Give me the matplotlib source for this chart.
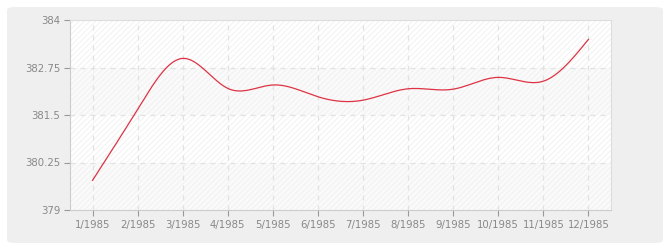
import numpy as np
import matplotlib
matplotlib.use("Agg")
import matplotlib.pyplot as plt
from matplotlib.patches import FancyBboxPatch

months = ["1/1985", "2/1985", "3/1985", "4/1985", "5/1985", "6/1985",
          "7/1985", "8/1985", "9/1985", "10/1985", "11/1985", "12/1985"]
values = [379.78, 381.65, 382.99, 382.20, 382.29, 381.98,
          381.89, 382.19, 382.18, 382.49, 382.39, 383.49]
yticks = [379, 380.25, 381.5, 382.75, 384]
ytick_labels = ["379", "380.25", "381.5", "382.75", "384"]


def natural_spline(x, y, n=400):
    x = np.asarray(x, float); y = np.asarray(y, float)
    k = len(x)
    h = np.diff(x)
    A = np.zeros((k, k)); b = np.zeros(k)
    A[0, 0] = 1; A[-1, -1] = 1
    for i in range(1, k - 1):
        A[i, i - 1] = h[i - 1]
        A[i, i] = 2 * (h[i - 1] + h[i])
        A[i, i + 1] = h[i]
        b[i] = 3 * ((y[i + 1] - y[i]) / h[i] - (y[i] - y[i - 1]) / h[i - 1])
    c = np.linalg.solve(A, b)
    xs = np.linspace(x[0], x[-1], n)
    ys = np.empty_like(xs)
    for j, xv in enumerate(xs):
        i = min(np.searchsorted(x, xv, side="right") - 1, k - 2)
        dx = xv - x[i]
        bi = (y[i + 1] - y[i]) / h[i] - h[i] * (2 * c[i] + c[i + 1]) / 3
        di = (c[i + 1] - c[i]) / (3 * h[i])
        ys[j] = y[i] + bi * dx + c[i] * dx ** 2 + di * dx ** 3
    return xs, ys


plt.rcParams['hatch.color'] = '#eeeeee'
plt.rcParams['hatch.linewidth'] = 0.6

fig = plt.figure(figsize=(6.7, 2.5), dpi=100)
fig.patch.set_facecolor("white")
W, H = 670, 250
panel = FancyBboxPatch((7 / W, 7 / H), 656 / W, 236 / H,
                       boxstyle="round,pad=0,rounding_size=0.012",
                       transform=fig.transFigure, facecolor="#efefef",
                       edgecolor="none", zorder=-10)
fig.add_artist(panel)

ax = fig.add_axes([70 / W, 40 / H, 541 / W, 190 / H])
ax.set_zorder(1)
ax.set_facecolor("white")
x = np.arange(len(months))
ax.set_xlim(-0.5, len(months) - 0.5)
ax.set_ylim(yticks[0], yticks[-1])

for i in range(len(yticks) - 1):
    fc = "#ffffff" if i % 2 == 1 else "#fafafa"
    ax.axhspan(yticks[i], yticks[i + 1], facecolor=fc, hatch="//////",
               edgecolor="#f0f0f0", linewidth=0, zorder=0)

for xv in x:
    ax.axvline(xv, color="#e2e2e2", lw=0.9, ls=(0, (4, 4)), zorder=1)
for yv in yticks[1:-1]:
    ax.axhline(yv, color="#e2e2e2", lw=0.9, ls=(0, (4, 4)), zorder=1)

xs, ys = natural_spline(x, values)
ax.plot(xs, ys, color="#dd3344", lw=0.9, zorder=3)

ax.set_xticks(x)
ax.set_xticklabels(months)
ax.set_yticks(yticks)
ax.set_yticklabels(ytick_labels)
ax.tick_params(axis="both", colors="#999999", labelsize=7.3, length=4,
               width=0.8, direction="out", pad=3)
ax.tick_params(axis="both", labelcolor="#888888")
for s in ax.spines.values():
    s.set_color("#dddddd")
    s.set_linewidth(0.8)
ax.spines["left"].set_color("#cccccc")
ax.spines["bottom"].set_color("#cccccc")

fig.savefig("out.png", dpi=100, facecolor="white")
